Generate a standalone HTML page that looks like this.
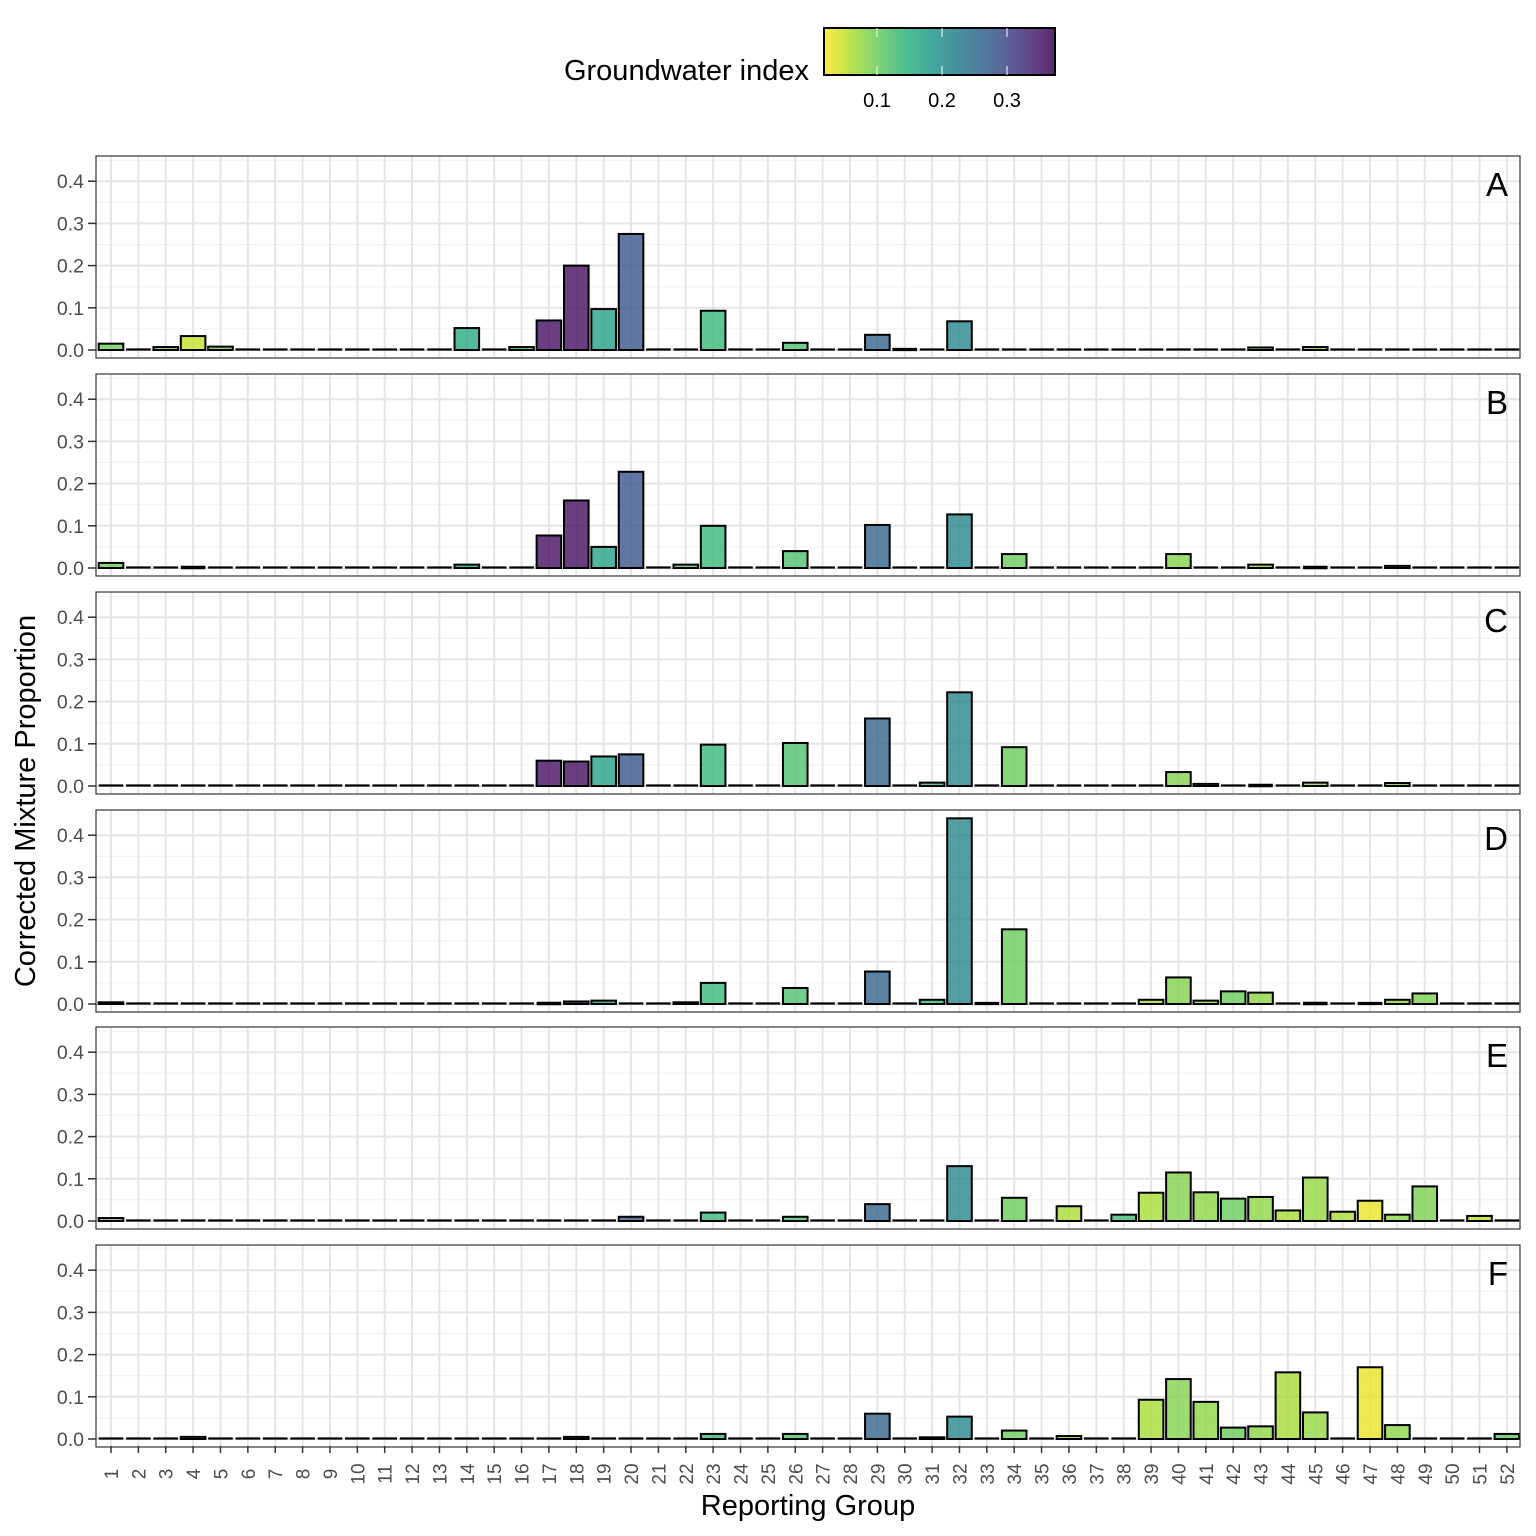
<!DOCTYPE html><html><head><style>body{margin:0;background:#fff}svg{display:block}</style></head><body>
<svg id="s" width="1536" height="1536" xmlns="http://www.w3.org/2000/svg" font-family="Liberation Sans, Arial, sans-serif"></svg>
<script>
const S=document.getElementById('s');let h='';
const vir=[[68,1,84],[72,40,120],[62,74,137],[49,104,142],[38,130,142],[31,158,137],[53,183,121],[109,205,89],[180,222,44],[253,231,37]];
function vc(t){t=Math.max(0,Math.min(1,t));const p=t*9,i=Math.min(8,Math.floor(p)),f=p-i,a=vir[i],b=vir[i+1];return 'rgb('+a.map((x,k)=>Math.round(x+(b[k]-x)*f)).join(',')+')';}
const gi={1:0.1,3:0.09,4:0.05,5:0.09,14:0.16,16:0.14,17:0.36,18:0.36,19:0.17,20:0.28,22:0.11,23:0.135,26:0.12,29:0.26,30:0.2,31:0.14,32:0.21,33:0.14,34:0.1,36:0.065,38:0.13,39:0.065,40:0.085,41:0.08,42:0.1,43:0.08,44:0.065,45:0.075,46:0.065,47:0.03,48:0.08,49:0.09,51:0.055,52:0.11};
function col(g){const v=gi[g]||0.15;return vc(1-(v-0.0185)/(0.374-0.0185));}
const P=[
{1:0.015,3:0.007,4:0.033,5:0.008,14:0.052,16:0.007,17:0.07,18:0.2,19:0.097,20:0.275,23:0.093,26:0.017,29:0.036,30:0.002,32:0.068,43:0.006,45:0.007},
{1:0.012,4:0.003,14:0.008,17:0.077,18:0.16,19:0.05,20:0.228,22:0.008,23:0.1,26:0.04,29:0.102,32:0.127,34:0.033,40:0.033,43:0.008,45:0.003,48:0.005},
{17:0.06,18:0.058,19:0.07,20:0.075,23:0.098,26:0.102,29:0.16,31:0.008,32:0.222,34:0.092,40:0.033,41:0.005,43:0.003,45:0.008,48:0.007},
{1:0.004,17:0.003,18:0.006,19:0.008,22:0.004,23:0.05,26:0.038,29:0.077,31:0.01,32:0.44,33:0.002,34:0.177,39:0.01,40:0.063,41:0.008,42:0.03,43:0.027,45:0.003,47:0.002,48:0.01,49:0.025},
{1:0.007,20:0.01,23:0.02,26:0.01,29:0.04,32:0.13,34:0.055,36:0.035,38:0.015,39:0.067,40:0.115,41:0.068,42:0.053,43:0.057,44:0.025,45:0.103,46:0.022,47:0.048,48:0.015,49:0.082,51:0.012},
{4:0.005,18:0.005,23:0.012,26:0.012,29:0.06,31:0.004,32:0.053,34:0.02,36:0.007,39:0.093,40:0.142,41:0.088,42:0.027,43:0.03,44:0.158,45:0.063,47:0.17,48:0.033,52:0.012}];
const tops=[156,374,592,810,1027,1245],L="ABCDEF";
const X0=96,X1=1520,dx=27.37,gx=g=>111+(g-1)*dx,k=422;
tops.forEach((T,p)=>{const B=T+202,y0=T+194;const y=v=>y0-v*k;
 h+=`<rect x="${X0}" y="${T}" width="${X1-X0}" height="202" fill="#fff"/>`;
 for(let v=0.05;v<0.46;v+=0.1)h+=`<line x1="${X0}" x2="${X1}" y1="${y(v)}" y2="${y(v)}" stroke="#f0f0f0" stroke-width="1"/>`;
 for(let g=1;g<=52;g++)h+=`<line x1="${gx(g)}" x2="${gx(g)}" y1="${T}" y2="${B}" stroke="#e5e5e5" stroke-width="2"/>`;
 for(let i=0;i<5;i++){const yy=y(i/10);h+=`<line x1="${X0}" x2="${X1}" y1="${yy}" y2="${yy}" stroke="#e5e5e5" stroke-width="2"/><line x1="88" x2="${X0}" y1="${yy}" y2="${yy}" stroke="#333" stroke-width="1.5"/><text x="84" y="${yy+7}" font-size="19.5" fill="#4d4d4d" text-anchor="end">${(i/10).toFixed(1)}</text>`;}
 for(let g=1;g<=52;g++){const v=P[p][g]||0,bw=24.6,x=gx(g)-bw/2;
  if(v*k<1.5)h+=`<line x1="${x}" x2="${x+bw}" y1="${y0-0.5}" y2="${y0-0.5}" stroke="#000" stroke-width="${2.3+v*k}"/>`;
  else h+=`<rect x="${x}" y="${y(v)}" width="${bw}" height="${v*k}" fill="${col(g)}" fill-opacity="0.8" stroke="#000" stroke-width="2"/>`;}
 h+=`<rect x="${X0}" y="${T}" width="${X1-X0}" height="202" fill="none" stroke="#333" stroke-width="1.2"/>`;
 h+=`<text x="1508" y="${T+40}" font-size="33" text-anchor="end">${L[p]}</text>`;
});
for(let g=1;g<=52;g++){const x=gx(g);h+=`<line x1="${x}" x2="${x}" y1="1446" y2="1453" stroke="#333" stroke-width="1.5"/><text transform="translate(${x+7},1474) rotate(-90)" font-size="19" fill="#4d4d4d" text-anchor="middle">${g}</text>`;}
h+=`<text x="808" y="1515" font-size="29" text-anchor="middle">Reporting Group</text>`;
h+=`<text transform="translate(35,801) rotate(-90)" font-size="29" text-anchor="middle">Corrected Mixture Proportion</text>`;
h+=`<defs><linearGradient id="cb">`;for(let i=0;i<=20;i++)h+=`<stop offset="${i/20}" stop-color="${vc(1-i/20)}" stop-opacity="0.85"/>`;h+=`</linearGradient></defs>`;
h+=`<rect x="824" y="28" width="231" height="47" fill="url(#cb)" stroke="#000" stroke-width="2"/>`;
[[0.1,877],[0.2,942],[0.3,1007]].forEach(([v,x])=>{h+=`<line x1="${x}" x2="${x}" y1="28" y2="37" stroke="#fff"/><line x1="${x}" x2="${x}" y1="66" y2="75" stroke="#fff"/><text x="${x}" y="107" font-size="20" text-anchor="middle">${v}</text>`;});
h+=`<text x="809" y="80" font-size="29" text-anchor="end">Groundwater index</text>`;
S.innerHTML=h;
</script></body></html>
